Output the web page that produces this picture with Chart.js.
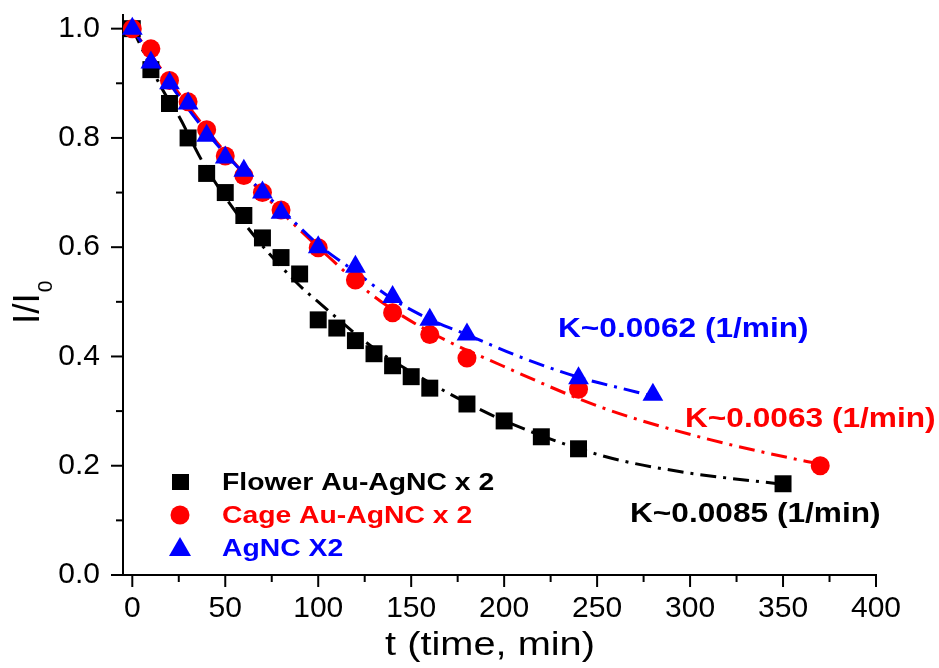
<!DOCTYPE html>
<html>
<head>
<meta charset="utf-8">
<script src="https://cdn.jsdelivr.net/npm/chart.js@4.4.0/dist/chart.umd.min.js"></script>
<style>
  html, body { margin: 0; padding: 0; background: #fff; }
  canvas { display: block; }
</style>
</head>
<body>
<canvas id="chart" width="939" height="668"></canvas>
<script>
// --- data ---
const seriesNames = ['Flower Au-AgNC x 2', 'Cage Au-AgNC x 2', 'AgNC X2'];
const rateLabels = ['K~0.0085 (1/min)', 'K~0.0063 (1/min)', 'K~0.0062 (1/min)'];

const flowerT = [0, 10, 20, 30, 40, 50, 60, 70, 80, 90, 100, 110, 120, 130, 140, 150, 160, 180, 200, 220, 240, 350];
const flowerY = [1.0, 0.925, 0.863, 0.80, 0.735, 0.70, 0.658, 0.617, 0.581, 0.551, 0.467, 0.452, 0.429, 0.405, 0.383, 0.363, 0.342, 0.313, 0.282, 0.253, 0.231, 0.167];

const cageT = [0, 10, 20, 30, 40, 50, 60, 70, 80, 100, 120, 140, 160, 180, 240, 370];
const cageY = [1.0, 0.963, 0.905, 0.866, 0.815, 0.767, 0.731, 0.70, 0.668, 0.599, 0.54, 0.48, 0.44, 0.397, 0.34, 0.20];

const agT = [0, 10, 20, 30, 40, 50, 60, 70, 80, 100, 120, 140, 160, 180, 240, 280];
const agY = [1.0, 0.938, 0.90, 0.863, 0.804, 0.764, 0.74, 0.70, 0.663, 0.60, 0.564, 0.509, 0.467, 0.44, 0.36, 0.33];

// fitted decay curves
const flowerFitT = [0, 16, 25, 38, 62, 89, 100, 130, 160, 180, 203, 253, 295, 350];
const flowerFitY = [1.0, 0.89, 0.84, 0.755, 0.636, 0.533, 0.50, 0.415, 0.352, 0.315, 0.278, 0.218, 0.189, 0.166];
const cageFitT = [0, 20, 40, 60, 80, 100, 130, 160, 199, 253, 307, 361, 370];
const cageFitY = [1.0, 0.905, 0.815, 0.735, 0.665, 0.60, 0.51, 0.445, 0.383, 0.306, 0.251, 0.209, 0.203];
const agFitT = [0, 20, 40, 60, 80, 100, 120, 140, 160, 180, 208, 240, 271, 280];
const agFitY = [1.0, 0.90, 0.81, 0.735, 0.67, 0.605, 0.555, 0.505, 0.468, 0.44, 0.40, 0.362, 0.335, 0.327];

const xTicks = [0, 50, 100, 150, 200, 250, 300, 350, 400];
const xMinor = [25, 75, 125, 175, 225, 275, 325, 375];
const yTicks = [0, 0.2, 0.4, 0.6, 0.8, 1.0];
const yMinor = [0.1, 0.3, 0.5, 0.7, 0.9];

const colors = ['#000000', '#ff0000', '#0000ff'];
const FONT = "'Liberation Sans', Arial, sans-serif";

const pts = (xs, ys) => xs.map((x, i) => ({ x: x, y: ys[i] }));

function fitSet(xs, ys, color, order) {
    return {
        data: pts(xs, ys), showLine: true, pointRadius: 0, borderColor: color,
        borderWidth: 3, borderDash: [16, 7, 3, 7], tension: 0.4,
        cubicInterpolationMode: 'monotone', fill: false, order: order, clip: false
    };
}
function markSet(xs, ys, color, style, r, order) {
    return {
        data: pts(xs, ys), showLine: false, pointStyle: style, pointRadius: r,
        backgroundColor: color, borderColor: color, borderWidth: 0, order: order, clip: false
    };
}

// draws the minor/major ticks, axis titles, legend and K labels
const overlay = {
    id: 'overlay',
    afterDraw(chart) {
        const ctx = chart.ctx, xs = chart.scales.x, ys = chart.scales.y;
        ctx.save();
        ctx.strokeStyle = '#000';
        ctx.lineWidth = 2;
        const tick = (x1, y1, x2, y2) => { ctx.beginPath(); ctx.moveTo(x1, y1); ctx.lineTo(x2, y2); ctx.stroke(); };
        xTicks.forEach(v => { const p = xs.getPixelForValue(v); tick(p, ys.bottom, p, ys.bottom + 12); });
        xMinor.forEach(v => { const p = xs.getPixelForValue(v); tick(p, ys.bottom, p, ys.bottom + 7); });
        yTicks.forEach(v => { const p = ys.getPixelForValue(v); tick(xs.left, p, xs.left - 12, p); });
        yMinor.forEach(v => { const p = ys.getPixelForValue(v); tick(xs.left, p, xs.left - 7, p); });

        const wide = (text, x, y, sx) => {
            ctx.save(); ctx.translate(x, y); ctx.scale(sx, 1); ctx.fillText(text, 0, 0); ctx.restore();
        };

        // x title
        ctx.fillStyle = '#000';
        ctx.textBaseline = 'alphabetic';
        ctx.textAlign = 'center';
        ctx.font = '34px ' + FONT;
        wide('t (time, min)', 490, 655, 1.17);

        // y title I/I0 (rotated)
        ctx.save();
        ctx.translate(39, 324);
        ctx.rotate(-Math.PI / 2);
        ctx.textAlign = 'left';
        ctx.font = '37px ' + FONT;
        ctx.fillText('I/I', 0, 0);
        const w = ctx.measureText('I/I').width;
        ctx.font = '21px ' + FONT;
        ctx.fillText('0', w + 1, 13);
        ctx.restore();

        // legend
        const lx = 180, ly = [482, 515, 548];
        ctx.fillStyle = colors[0];
        ctx.fillRect(lx - 8, ly[0] - 8, 17, 16);
        ctx.fillStyle = colors[1];
        ctx.beginPath(); ctx.arc(lx, ly[1], 9.5, 0, Math.PI * 2); ctx.fill();
        ctx.fillStyle = colors[2];
        ctx.beginPath(); ctx.moveTo(lx, ly[2] - 11); ctx.lineTo(lx + 11, ly[2] + 8); ctx.lineTo(lx - 11, ly[2] + 8); ctx.closePath(); ctx.fill();
        ctx.textAlign = 'left';
        ctx.textBaseline = 'middle';
        ctx.font = 'bold 24px ' + FONT;
        seriesNames.forEach((s, i) => { ctx.fillStyle = colors[i]; wide(s, 222, ly[i] + 1, 1.18); });

        // rate constants
        ctx.font = 'bold 28px ' + FONT;
        ctx.fillStyle = colors[2]; wide(rateLabels[2], 558, 329, 1.13);
        ctx.fillStyle = colors[1]; wide(rateLabels[1], 685, 419, 1.13);
        ctx.fillStyle = colors[0]; wide(rateLabels[0], 630, 514, 1.13);
        ctx.restore();
    }
};

new Chart(document.getElementById('chart'), {
    type: 'scatter',
    data: {
        datasets: [
            markSet(agT, agY, colors[2], 'triangle', 12, 0),
            markSet(cageT, cageY, colors[1], 'circle', 9.5, 1),
            markSet(flowerT, flowerY, colors[0], 'rect', 12, 2),
            fitSet(agFitT, agFitY, colors[2], 3),
            fitSet(cageFitT, cageFitY, colors[1], 4),
            fitSet(flowerFitT, flowerFitY, colors[0], 5)
        ]
    },
    options: {
        responsive: false,
        animation: false,
        layout: { padding: { top: 15, right: 63, left: 0, bottom: 0 } },
        plugins: { legend: { display: false }, tooltip: { enabled: false } },
        scales: {
            x: {
                type: 'linear', min: -5, max: 400,
                afterBuildTicks: s => { s.ticks = xTicks.map(v => ({ value: v })); },
                afterFit: s => { s.height = 93; s.paddingLeft = 0; s.paddingRight = 0; },
                grid: { drawOnChartArea: false, drawTicks: false },
                border: { color: '#000', width: 2 },
                ticks: { color: '#000', font: { family: FONT, size: 30 }, padding: 16, maxRotation: 0 }
            },
            y: {
                type: 'linear', min: 0, max: 1.025,
                afterBuildTicks: s => { s.ticks = yTicks.map(v => ({ value: v })); },
                afterFit: s => { s.width = 123; s.paddingTop = 0; s.paddingBottom = 0; },
                grid: { drawOnChartArea: false, drawTicks: false },
                border: { color: '#000', width: 2 },
                ticks: { color: '#000', font: { family: FONT, size: 30 }, padding: 23, callback: v => v.toFixed(1) }
            }
        }
    },
    plugins: [overlay]
});
</script>
</body>
</html>
